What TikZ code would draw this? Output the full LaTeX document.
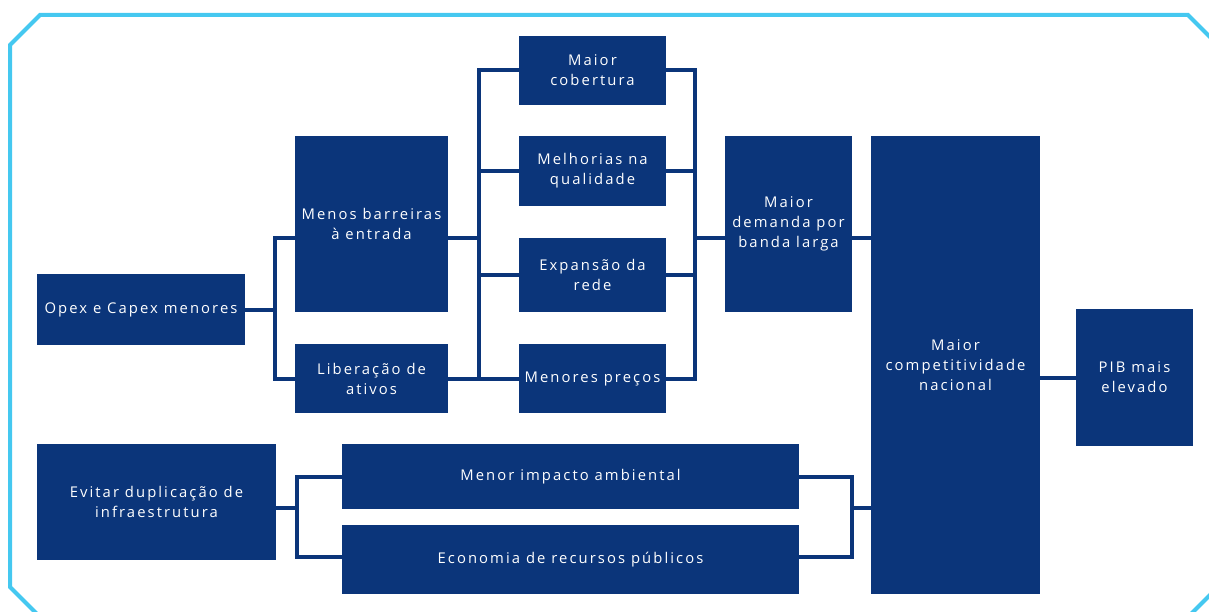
\documentclass[tikz,border=0pt]{standalone}
\usepackage{fontspec}
\setmainfont{Open Sans}[LetterSpace=14]
\definecolor{navy}{RGB}{11,53,122}
\definecolor{sky}{RGB}{69,200,240}
\begin{document}
\begin{tikzpicture}[x=1pt,y=-1pt,
  box/.style={fill=navy, draw=none, text=white, inner sep=0pt, align=center,
    font=\fontsize{14.8}{20}\selectfont},
  conn/.style={draw=navy, line width=4pt, line join=miter},
  frame/.style={draw=sky, line width=4pt, line join=miter}]
\useasboundingbox (0,0) rectangle (1209,612);
\clip (0,0) rectangle (1209,612);
\draw[frame] (40,15) -- (1188,15) -- (1218,45) -- (1218,587) -- (1188,617)
  -- (40,617) -- (10,587) -- (10,45) -- cycle;
% nodes
\node[box, minimum width=208, minimum height=71] (opex) at (141,309.5) {Opex e Capex menores};
\node[box, minimum width=153, minimum height=176] (menos) at (371.5,224) {Menos barreiras\\à entrada};
\node[box, minimum width=153, minimum height=69] (lib) at (371.5,378.5) {Liberação de\\ativos};
\node[box, minimum width=147, minimum height=69] (cob) at (592.5,70.5) {Maior\\cobertura};
\node[box, minimum width=147, minimum height=70] (mel) at (592.5,171) {Melhorias na\\qualidade};
\node[box, minimum width=147, minimum height=74] (exp) at (592.5,275) {Expansão da\\rede};
\node[box, minimum width=147, minimum height=69] (prec) at (592.5,378.5) {Menores preços};
\node[box, minimum width=127, minimum height=176] (dem) at (788.5,224) {Maior\\demanda por\\banda larga};
\node[box, minimum width=169, minimum height=458] (comp) at (955.5,365) {Maior\\competitividade\\nacional};
\node[box, minimum width=117, minimum height=137] (pib) at (1134.5,377.5) {PIB mais\\elevado};
\node[box, minimum width=239, minimum height=116] (evit) at (156.5,502) {Evitar duplicação de\\infraestrutura};
\node[box, minimum width=457, minimum height=65] (amb) at (570.5,476.5) {Menor impacto ambiental};
\node[box, minimum width=457, minimum height=69] (eco) at (570.5,559.5) {Economia de recursos públicos};
% bus coordinates
\coordinate (b1) at (275,0);
\coordinate (b2) at (479,0);
\coordinate (b3) at (695,0);
\coordinate (b4) at (297,0);
\coordinate (b5) at (852,0);
\coordinate (ym) at (0,238);
\coordinate (ya) at (0,477);
\coordinate (ye) at (0,557);
\coordinate (yv) at (0,508);
% connectors
\draw[conn] (opex.east) -- (opex.east -| b1);
\draw[conn] (menos.west |- ym) -- (b1 |- ym) -- (b1 |- lib.west) -- (lib.west);
\draw[conn] (menos.east |- ym) -- (b2 |- ym);
\draw[conn] (cob.west) -- (b2 |- cob.west) -- (b2 |- prec.west) -- (prec.west);
\draw[conn] (mel.west) -- (b2 |- mel.west);
\draw[conn] (exp.west) -- (b2 |- exp.west);
\draw[conn] (lib.east) -- (b2 |- lib.east);
\draw[conn] (cob.east) -- (b3 |- cob.east) -- (b3 |- prec.east) -- (prec.east);
\draw[conn] (mel.east) -- (b3 |- mel.east);
\draw[conn] (exp.east) -- (b3 |- exp.east);
\draw[conn] (b3 |- ym) -- (dem.west |- ym);
\draw[conn] (dem.east |- ym) -- (comp.west |- ym);
\draw[conn] (comp.east |- pib.west) -- (pib.west);
\draw[conn] (evit.east |- yv) -- (b4 |- yv);
\draw[conn] (amb.west |- ya) -- (b4 |- ya) -- (b4 |- ye) -- (eco.west |- ye);
\draw[conn] (amb.east |- ya) -- (b5 |- ya) -- (b5 |- ye) -- (eco.east |- ye);
\draw[conn] (b5 |- yv) -- (comp.west |- yv);
\end{tikzpicture}
\end{document}
